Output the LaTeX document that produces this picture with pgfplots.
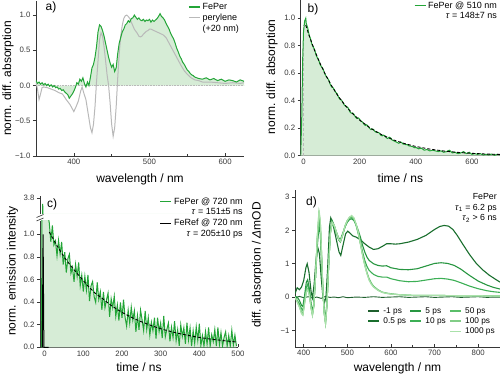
\documentclass[border=0pt]{standalone}
\usepackage{pgfplots}
\pgfplotsset{compat=1.18}
\usepackage{pgfplotstable}
\usepackage{fontspec}
\setmainfont{Liberation Sans}
\definecolor{fgreen}{RGB}{35,165,55}
\definecolor{fillg}{RGB}{214,236,214}
\definecolor{pgray}{RGB}{185,185,185}
\definecolor{axc}{RGB}{55,55,55}
\definecolor{dA}{RGB}{30,95,45}
\definecolor{dB}{RGB}{25,110,45}
\definecolor{dC}{RGB}{40,150,65}
\definecolor{dD}{RGB}{60,175,85}
\definecolor{dE}{RGB}{90,190,105}
\definecolor{dF}{RGB}{130,205,135}
\definecolor{dG}{RGB}{170,225,170}

\pgfplotsset{
 panel/.style={
  scale only axis,
  axis x line*=bottom, axis y line*=left,
  axis line style={axc, line width=0.7pt},
  every tick/.style={axc, line width=0.6pt},
  tick align=inside,
  major tick length=3pt, minor tick length=1.8pt,
  every major y tick/.append style={xshift=-3pt},
  /pgf/number format/assume math mode=true,
  tick label style={font=\fontsize{7.8}{9}\selectfont, text=axc},
  yticklabel style={xshift=-2pt},
  label style={font=\fontsize{12}{14}\selectfont},
  legend image code/.code={\draw[#1] (0pt,0pt) -- (11pt,0pt);},
  legend style={draw=none, fill=none, inner sep=0pt, row sep=-1pt, font=\fontsize{9}{10.5}\selectfont},
 }
}

\pgfplotstableread{
x y
350 0.07
352 0.03
354 0.05
356 0.02
358 0.04
360 0.01
362 0.03
364 0.0
366 0.02
368 -0.01
370 0.01
372 -0.02
374 0.0
376 -0.03
378 -0.02
380 -0.05
382 -0.04
384 -0.07
386 -0.06
388 -0.09
390 -0.11
392 -0.13
394 -0.18
396 -0.15
398 -0.12
400 -0.08
402 -0.03
404 0.04
406 0.02
408 0.09
410 0.06
412 0.11
414 0.03
416 -0.02
418 0.05
420 0.0
422 0.12
424 0.25
426 0.3
428 0.4
430 0.55
432 0.76
434 0.86
436 0.84
438 0.78
440 0.7
442 0.6
444 0.5
446 0.4
448 0.32
450 0.26
452 0.3
454 0.2
456 0.25
458 0.45
460 0.6
462 0.68
464 0.76
466 0.8
468 0.86
470 0.88
472 0.92
474 0.9
476 0.95
478 0.96
480 1.0
482 0.97
484 0.94
486 0.96
488 0.93
490 0.92
492 0.94
494 0.91
496 0.93
498 0.92
500 0.94
502 0.9
504 0.93
506 0.91
508 0.93
510 0.95
512 0.98
514 1.02
516 0.98
518 0.96
520 0.93
522 0.88
524 0.84
526 0.8
528 0.74
530 0.7
532 0.66
534 0.6
536 0.53
538 0.48
540 0.42
542 0.38
544 0.33
546 0.3
548 0.26
550 0.22
552 0.2
554 0.17
556 0.15
558 0.14
560 0.12
565 0.1
570 0.09
575 0.11
580 0.08
585 0.1
590 0.07
595 0.09
600 0.06
605 0.08
610 0.07
615 0.05
620 0.08
625 0.06
}\afeper

\pgfplotstableread{
x y
350 0.05
352 -0.05
354 -0.2
356 -0.12
358 -0.03
360 -0.02
365 -0.03
370 -0.05
375 -0.07
380 -0.1
385 -0.12
390 -0.2
395 -0.27
400 -0.37
403 -0.3
406 -0.22
409 -0.08
411 -0.02
413 -0.1
416 -0.2
419 -0.4
422 -0.6
424 -0.67
426 -0.55
428 -0.3
430 0.05
432 0.35
434 0.65
436 0.75
438 0.7
440 0.55
442 0.35
444 0.15
446 0.0
448 -0.25
450 -0.55
452 -0.72
454 -0.6
456 -0.3
458 0.1
460 0.45
462 0.7
464 0.85
466 0.95
468 0.99
470 1.0
472 0.98
474 0.95
476 0.9
478 0.85
480 0.8
482 0.77
484 0.74
486 0.7
488 0.69
490 0.7
492 0.73
494 0.75
496 0.77
498 0.78
500 0.8
502 0.8
504 0.79
506 0.78
508 0.77
510 0.76
514 0.74
518 0.72
522 0.68
526 0.6
530 0.52
534 0.44
538 0.36
542 0.28
546 0.21
550 0.16
555 0.11
560 0.08
565 0.07
570 0.05
580 0.05
590 0.04
600 0.03
610 0.04
620 0.03
625 0.04
}\aperylene

\pgfplotstableread{
x y
-10 0
-6 0.3
-3 0.7
0 0.9
4 0.98
8 1.0
10 0.96
15 0.93
20 0.88
25 0.85
30 0.81
35 0.79
40 0.77
45 0.73
50 0.71
55 0.69
60 0.66
65 0.645
70 0.63
75 0.6
80 0.58
85 0.565
90 0.55
95 0.52
100 0.5
105 0.495
110 0.48
115 0.46
120 0.45
125 0.425
130 0.41
135 0.405
140 0.39
145 0.37
150 0.36
155 0.355
160 0.345
165 0.32
170 0.31
175 0.31
180 0.3
185 0.28
190 0.27
195 0.275
200 0.265
205 0.25
210 0.245
215 0.23
220 0.22
225 0.225
230 0.215
235 0.2
240 0.19
245 0.195
250 0.19
255 0.175
260 0.17
265 0.17
270 0.165
275 0.15
280 0.145
285 0.15
290 0.145
295 0.13
300 0.125
305 0.135
310 0.13
315 0.115
320 0.11
325 0.105
330 0.1
335 0.095
340 0.09
345 0.1
350 0.095
355 0.085
360 0.085
365 0.08
370 0.08
375 0.072
380 0.07
385 0.068
390 0.065
395 0.058
400 0.06
410 0.05
420 0.055
430 0.04
440 0.045
450 0.035
460 0.04
470 0.035
480 0.03
490 0.035
500 0.025
510 0.03
520 0.04
530 0.02
540 0.025
550 0.015
560 0.02
570 0.03
580 0.015
590 0.025
600 0.01
610 0.015
620 0.01
630 0.015
640 0.005
650 0.01
660 0.005
670 0.012
680 0.003
690 0.01
700 0.005
}\bgreen

\pgfplotstableread{
x y
8 0.95
20 0.874
40 0.763
60 0.667
80 0.583
100 0.509
120 0.444
140 0.388
160 0.339
180 0.296
200 0.259
240 0.198
280 0.151
320 0.115
360 0.088
400 0.067
450 0.048
500 0.034
550 0.024
600 0.017
650 0.012
700 0.009
}\bfit

\pgfplotstableread{
x y
-8 0.0
-5 3.5
-3 1.9
0 1.5
4 1.3
8 1.18
12 1.10
16 0.934
20 1.079
24 0.905
28 0.941
32 0.808
36 0.946
40 0.824
44 0.933
48 0.732
52 0.842
56 0.662
60 0.783
64 0.824
68 0.655
72 0.707
76 0.580
80 0.733
84 0.626
88 0.750
92 0.544
96 0.639
100 0.494
104 0.629
108 0.505
112 0.641
116 0.408
120 0.545
124 0.582
128 0.449
132 0.397
136 0.575
140 0.423
144 0.492
148 0.331
152 0.490
156 0.350
160 0.420
164 0.480
168 0.270
172 0.430
176 0.351
180 0.452
184 0.273
188 0.375
192 0.236
196 0.398
200 0.260
204 0.422
208 0.265
212 0.187
216 0.330
220 0.213
224 0.356
228 0.240
232 0.323
236 0.137
240 0.281
244 0.155
248 0.329
252 0.243
256 0.148
260 0.322
264 0.157
268 0.262
272 0.107
276 0.222
280 0.147
284 0.262
288 0.078
292 0.263
296 0.139
300 0.215
304 0.081
308 0.277
312 0.093
316 0.159
320 0.215
324 0.052
328 0.178
332 0.085
336 0.231
340 0.058
344 0.155
348 0.012
352 0.199
356 0.096
360 0.173
364 0.030
368 0.217
372 0.065
376 0.172
380 0.010
384 0.147
388 0.035
392 0.182
396 0.060
400 0.208
404 0.015
408 0.103
412 0.010
416 0.139
420 0.027
424 0.175
428 0.010
432 0.112
436 0.050
440 0.158
444 0.010
448 0.175
452 0.023
456 0.131
460 0.010
464 0.088
468 0.137
472 0.010
476 0.104
480 0.010
484 0.151
488 0.020
492 0.108
496 0.010
}\cgreen

\pgfplotstableread{
x y
12 1.02
30 0.91
50 0.80
70 0.71
90 0.63
110 0.55
130 0.48
150 0.43
170 0.375
190 0.33
210 0.29
230 0.256
250 0.226
270 0.20
290 0.175
310 0.154
330 0.136
350 0.12
370 0.106
390 0.093
410 0.082
430 0.072
450 0.064
470 0.056
496 0.047
}\cfit

\begin{document}
\begin{tikzpicture}
% ---------------- panel a
\begin{axis}[panel, at={(36pt,221pt)}, anchor=south west, width=208pt, height=155pt,
 xmin=350, xmax=625, ymin=-1, ymax=1.2,
 xtick={400,500,600}, minor xtick={450,550},
 ytick={-1,-0.5,0,0.5,1}, yticklabels={−1.0,−0.5,0.0,0.5,1.0},
 xlabel={wavelength / nm}, ylabel={norm. diff. absorption},
 xlabel style={at={(axis description cs:0.5,-0.152)}, anchor=center},
 ylabel style={at={(axis description cs:-0.135,0.5)}, anchor=center},
 legend style={at={(axis description cs:1,1)}, anchor=north east, xshift=-3pt, font=\fontsize{9}{10}\selectfont},
 legend cell align=left]
\addplot[draw=none, fill=fillg, forget plot] table {\afeper} \closedcycle;
\addplot[pgray, densely dotted, line width=0.6pt, forget plot] coordinates {(350,0) (625,0)};
\addplot[pgray, line width=1pt, forget plot] table {\aperylene};
\addplot[fgreen, line width=1pt, forget plot] table {\afeper};
\addlegendimage{fgreen, line width=1.2pt}\addlegendentry{FePer}
\addlegendimage{pgray, line width=1.2pt}\addlegendentry{perylene}
\addlegendimage{empty legend}\addlegendentry{(+20 nm)}
\end{axis}
% ---------------- panel b
\begin{axis}[panel, at={(300.7pt,221.3pt)}, anchor=south west, width=199.3pt, height=155.3pt,
 xmin=-10, xmax=700, ymin=0, ymax=1.13,
 xtick={0,200,400,600}, minor xtick={100,300,500},
 ytick={0,0.2,0.4,0.6,0.8,1},
 yticklabel style={/pgf/number format/.cd, fixed, fixed zerofill, precision=1},
 xlabel={time / ns}, ylabel={norm. diff. absorption},
 xlabel style={at={(axis description cs:0.5,-0.144)}, anchor=center},
 ylabel style={at={(axis description cs:-0.144,0.507)}, anchor=center},
 legend style={at={(axis description cs:1,1)}, anchor=north east, xshift=-1pt, yshift=1pt},
 legend cell align=right]
\addplot[draw=none, fill=fillg, forget plot] table {\bgreen} \closedcycle;
\addplot[pgray, densely dashed, line width=0.5pt, forget plot] coordinates {(0,0) (0,0.95)};
\addplot[fgreen, line width=1pt, forget plot] table {\bgreen};
\addplot[black, densely dashed, line width=0.9pt, forget plot] table {\bfit};
\addlegendimage{fgreen, line width=1.2pt}\addlegendentry{FePer @ 510 nm}
\addlegendimage{empty legend}\addlegendentry{\textit{τ} = 148±7 ns}
\end{axis}
% ---------------- panel c (upper part)
\begin{axis}[panel, at={(40pt,163pt)}, anchor=south west, width=198pt, height=18pt,
 xmin=-12, xmax=500, ymin=3.0, ymax=3.9,
 axis x line=none, axis y line*=left,
 ytick={3.8}, yticklabels={3.8}]
\addplot[draw=none, fill=fillg] table {\cgreen} \closedcycle;
\addplot[fgreen, line width=1pt] table {\cgreen};
\end{axis}
% ---------------- panel c (lower part)
\begin{axis}[panel, at={(40pt,29.7pt)}, anchor=south west, width=198pt, height=126.6pt,
 xmin=-12, xmax=500, ymin=0, ymax=1.12,
 xtick={0,100,200,300,400,500}, minor xtick={50,150,250,350,450},
 ytick={0,0.2,0.4,0.6,0.8,1},
 yticklabel style={/pgf/number format/.cd, fixed, fixed zerofill, precision=1},
 xlabel={time / ns}, ylabel={norm. emission intensity},
 xlabel style={at={(axis description cs:0.5,-0.156)}, anchor=center},
 ylabel style={at={(axis description cs:-0.139,0.603)}, anchor=center},
 legend style={at={(axis description cs:1.035,1.2)}, anchor=north east},
 legend cell align=right]
\addplot[draw=none, fill=fillg, forget plot] table {\cgreen} \closedcycle;
\addplot[fgreen, line width=1pt, forget plot] table {\cgreen};
\addplot[black, line width=1pt, forget plot] coordinates {(-6,0) (-4,1.0) (-2,0.0) (10,0)};
\addplot[black, densely dashed, line width=0.9pt, forget plot] table {\cfit};
\addlegendimage{fgreen, line width=1.2pt}\addlegendentry{FePer @ 720 nm}
\addlegendimage{empty legend}\addlegendentry{\textit{τ} = 151±5 ns}
\addlegendimage{black, line width=1.2pt}\addlegendentry{FeRef @ 720 nm}
\addlegendimage{empty legend}\addlegendentry{\textit{τ} = 205±10 ps}
\end{axis}
\draw[axc, line width=0.6pt] (36.5pt,156pt) -- (43.5pt,159pt);
\draw[axc, line width=0.6pt] (36.5pt,159.5pt) -- (43.5pt,162.5pt);
% ---------------- panel d
\begin{axis}[panel, at={(295pt,30pt)}, anchor=south west, width=205pt, height=156.5pt,
 xmin=380, xmax=850, ymin=-1.5, ymax=3.2,
 xtick={400,500,600,700,800}, minor xtick={450,550,650,750},
 ytick={-1,0,1,2,3}, yticklabels={−1,0,1,2,3},
 xlabel={wavelength / nm}, ylabel={diff. absorption / \textit{Δ}mOD},
 xlabel style={at={(axis description cs:0.5,-0.134)}, anchor=center},
 ylabel style={at={(axis description cs:-0.183,0.524)}, anchor=center},
 legend columns=3,
 legend style={at={(axis description cs:0.985,0.268)}, anchor=north east, column sep=1.5pt, font=\fontsize{8.3}{9.5}\selectfont},
 legend cell align=left]
\addplot[dA, line width=0.9pt, forget plot] coordinates {
(380,-0.03) (390,0.02) (400,-0.02) (410,0.01) (420,-0.03) (430,0.0) (440,-0.04) (450,0.02) (460,-0.01) (470,0.0) (480,-0.02) (490,0.01) (500,-0.02) (520,0.0) (540,-0.01) (560,0.01) (580,-0.01) (600,0.0) (620,0.01) (640,-0.01) (660,0.0) (680,0.01) (700,-0.01) (720,0.0) (740,0.01) (760,-0.01) (780,0.0) (800,0.01) (820,-0.01) (840,0.0) (850,0.0)};
\addplot[dB, line width=1.1pt, forget plot] coordinates {
(380,0.1) (385,0.28) (390,0.22) (395,0.3) (400,0.5) (405,0.88) (408,1.0) (412,0.75) (417,0.15) (420,-0.02) (424,0.4) (428,1.1) (432,1.5) (436,1.3) (440,0.6) (444,0.0) (448,-0.15) (451,0.0) (455,0.9) (459,2.1) (462,2.38) (466,2.25) (471,1.95) (476,1.65) (481,1.35) (485,1.25) (490,1.55) (496,1.9) (501,1.98) (506,1.92) (512,1.84) (520,1.8) (530,1.72) (540,1.6) (550,1.5) (560,1.43) (570,1.45) (580,1.52) (590,1.6) (600,1.6) (610,1.59) (620,1.6) (640,1.65) (660,1.73) (680,1.85) (700,2.03) (712,2.12) (722,2.15) (732,2.13) (742,2.03) (752,1.85) (765,1.58) (780,1.28) (795,1.02) (810,0.82) (825,0.66) (840,0.53) (850,0.45)};
\addplot[dC, line width=1.1pt, forget plot] coordinates {
(380,0.02) (385,0.0) (390,-0.1) (395,-0.25) (398,-0.28) (402,0.05) (406,0.45) (409,0.52) (413,0.25) (417,-0.2) (420,-0.45) (423,-0.2) (427,0.6) (431,1.5) (435,2.15) (438,1.9) (441,1.05) (444,0.15) (447,-0.4) (450,-0.65) (453,-0.2) (457,0.95) (461,2.0) (465,2.3) (470,2.15) (475,1.95) (480,1.78) (484,1.72) (489,1.9) (495,2.12) (500,2.25) (505,2.33) (510,2.35) (515,2.3) (520,2.18) (525,2.0) (530,1.8) (535,1.55) (540,1.35) (545,1.2) (550,1.1) (560,1.0) (570,0.95) (580,0.93) (590,0.94) (600,0.88) (620,0.83) (640,0.82) (660,0.85) (680,0.93) (700,1.01) (715,1.03) (730,1.01) (745,0.95) (760,0.84) (780,0.65) (800,0.48) (820,0.36) (835,0.29) (850,0.24)};
\addplot[dD, line width=1.1pt, forget plot] coordinates {
(380,0.0) (385,-0.1) (390,-0.2) (395,-0.35) (398,-0.4) (402,-0.05) (406,0.3) (409,0.38) (413,0.15) (417,-0.3) (420,-0.5) (423,-0.25) (427,0.6) (431,1.65) (435,2.3) (438,2.05) (441,1.15) (444,0.2) (447,-0.45) (450,-0.75) (453,-0.25) (457,0.9) (461,1.95) (465,2.25) (470,2.1) (475,1.9) (480,1.72) (484,1.65) (489,1.85) (495,2.12) (500,2.28) (505,2.36) (510,2.4) (515,2.33) (520,2.15) (525,1.9) (530,1.65) (535,1.35) (540,1.1) (545,0.92) (550,0.8) (560,0.68) (570,0.62) (580,0.6) (590,0.6) (600,0.55) (620,0.49) (640,0.46) (660,0.47) (680,0.51) (700,0.55) (715,0.56) (730,0.54) (745,0.5) (760,0.43) (780,0.33) (800,0.25) (820,0.19) (835,0.16) (850,0.14)};
\addplot[dE, line width=1.1pt, forget plot] coordinates {
(380,0.0) (385,-0.12) (390,-0.27) (395,-0.45) (398,-0.5) (402,-0.15) (406,0.18) (409,0.25) (413,0.08) (417,-0.33) (420,-0.53) (423,-0.28) (427,0.6) (431,1.75) (435,2.45) (438,2.2) (441,1.25) (444,0.2) (447,-0.48) (450,-0.78) (453,-0.28) (457,0.9) (461,1.9) (465,2.2) (470,2.12) (475,1.92) (480,1.73) (484,1.66) (489,1.85) (495,2.14) (500,2.3) (505,2.38) (510,2.4) (515,2.34) (520,2.18) (525,1.95) (530,1.62) (535,1.28) (540,0.98) (545,0.74) (550,0.55) (555,0.42) (560,0.33) (570,0.22) (580,0.15) (590,0.12) (600,0.1) (620,0.07) (650,0.05) (700,0.05) (750,0.04) (800,0.04) (850,0.03)};
\addplot[dF, line width=1.1pt, forget plot] coordinates {
(380,0.0) (385,-0.14) (390,-0.29) (395,-0.48) (398,-0.53) (402,-0.18) (406,0.16) (409,0.23) (413,0.06) (417,-0.34) (420,-0.54) (423,-0.29) (427,0.6) (431,1.8) (435,2.55) (438,2.27) (441,1.28) (444,0.2) (447,-0.5) (450,-0.8) (453,-0.3) (457,0.9) (461,1.9) (465,2.23) (470,2.14) (475,1.94) (480,1.74) (484,1.67) (489,1.85) (495,2.15) (500,2.3) (505,2.4) (510,2.43) (515,2.37) (520,2.18) (525,1.92) (530,1.58) (535,1.25) (540,0.95) (545,0.71) (550,0.52) (555,0.4) (560,0.31) (570,0.21) (580,0.14) (590,0.11) (600,0.09) (620,0.07) (650,0.05) (700,0.05) (750,0.04) (800,0.04) (850,0.03)};
\addplot[dG, line width=1.1pt, forget plot] coordinates {
(380,0.0) (385,-0.15) (390,-0.3) (395,-0.5) (398,-0.55) (402,-0.2) (406,0.15) (409,0.22) (413,0.05) (417,-0.35) (420,-0.55) (423,-0.3) (427,0.6) (431,1.8) (435,2.62) (438,2.3) (441,1.3) (444,0.2) (447,-0.5) (450,-0.8) (453,-0.3) (457,0.9) (461,1.9) (465,2.25) (470,2.15) (475,1.95) (480,1.75) (484,1.68) (489,1.85) (495,2.15) (500,2.3) (505,2.4) (510,2.45) (515,2.38) (520,2.2) (525,1.95) (530,1.6) (535,1.25) (540,0.95) (545,0.7) (550,0.5) (555,0.38) (560,0.3) (570,0.2) (580,0.14) (590,0.11) (600,0.09) (620,0.07) (650,0.05) (700,0.05) (750,0.04) (800,0.04) (850,0.03)};
\addlegendimage{dA, line width=1.4pt}\addlegendentry{-1 ps}
\addlegendimage{dC, line width=1.4pt}\addlegendentry{5 ps}
\addlegendimage{dE, line width=1.4pt}\addlegendentry{50 ps}
\addlegendimage{dB, line width=1.4pt}\addlegendentry{0.5 ps}
\addlegendimage{dD, line width=1.4pt}\addlegendentry{10 ps}
\addlegendimage{dF, line width=1.4pt}\addlegendentry{100 ps}
\addlegendimage{empty legend}\addlegendentry{}
\addlegendimage{empty legend}\addlegendentry{}
\addlegendimage{dG, line width=1.4pt}\addlegendentry{1000 ps}
\end{axis}
\node[anchor=north east, align=right, font=\fontsize{8.8}{10.8}\selectfont, inner sep=0pt] at (497pt,184pt) {FePer\\\textit{τ}\textsubscript{1} = 6.2 ps\\\textit{τ}\textsubscript{2} > 6 ns};
% panel letters
\node[font=\fontsize{12}{14}\selectfont] at (51pt,370pt) {a)};
\node[font=\fontsize{12}{14}\selectfont] at (313pt,368pt) {b)};
\node[font=\fontsize{12}{14}\selectfont] at (52pt,173pt) {c)};
\node[font=\fontsize{12}{14}\selectfont] at (311.5pt,174.5pt) {d)};
\pgfresetboundingbox
\path (0pt,0pt) rectangle (500pt,377pt);
\end{tikzpicture}
\end{document}
